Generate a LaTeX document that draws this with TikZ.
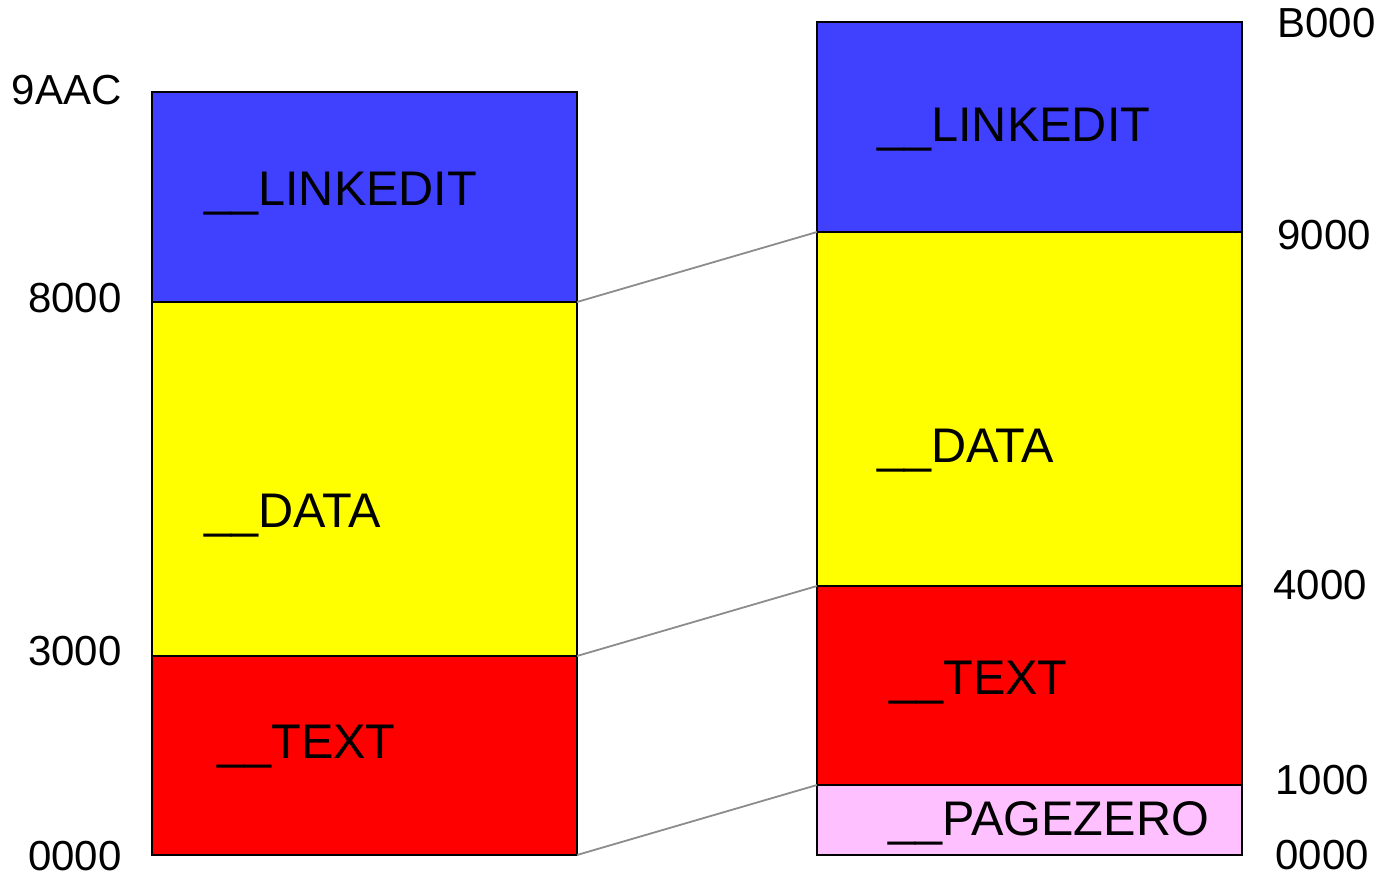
\documentclass[tikz,border=0pt]{standalone}
\usepackage{fontspec}
\setmainfont{Liberation Sans}
\usepackage{tikz}
\usetikzlibrary{positioning}

\definecolor{segblue}{HTML}{4040FF}
\definecolor{segyellow}{HTML}{FFFF00}
\definecolor{segred}{HTML}{FF0000}
\definecolor{segpink}{HTML}{FFC0FF}
\definecolor{linkgray}{HTML}{8C8C8C}

\tikzset{
  seg/.style={draw=black, line width=1pt, inner sep=0pt, outer sep=0pt,
              minimum width=212.5pt, anchor=north west},
  segname/.style={anchor=base west, inner sep=0pt, font=\fontsize{24.3}{29}\selectfont},
  addrl/.style={anchor=base east, inner sep=0pt, font=\fontsize{21}{25}\selectfont},
  addrr/.style={anchor=base west, inner sep=0pt, font=\fontsize{21}{25}\selectfont},
  link/.style={draw=linkgray, line width=0.9pt}
}

\begin{document}
\begin{tikzpicture}[x=0.5pt, y=-0.5pt]
            \useasboundingbox (0,0) rectangle (1380,876);
            % file on disk
            \draw (152,92) node[seg, fill=segblue, minimum height=105pt]    (llink) {};
            \draw (152,302) node[seg, fill=segyellow, minimum height=177pt] (ldata) {};
            \draw (152,656) node[seg, fill=segred, minimum height=99.5pt]   (ltext) {};
            % memory
            \draw (817,22) node[seg, fill=segblue, minimum height=105pt]    (rlink) {};
            \draw (817,232) node[seg, fill=segyellow, minimum height=177pt] (rdata) {};
            \draw (817,586) node[seg, fill=segred, minimum height=99.5pt]   (rtext) {};
            \draw (817,785) node[seg, fill=segpink, minimum height=35pt]    (rzero) {};
            \draw (ldata.north east) edge[link] (rdata.north west);
            \draw (ltext.north east) edge[link] (rtext.north west);
            \draw (ltext.south east) edge[link] (rzero.north west);
            % segment names
            \draw (204,206) node[segname] (nllink) {\_\_LINKEDIT};
            \draw (204,527) node[segname] (nldata) {\_\_DATA};
            \draw (217,758) node[segname] (nltext) {\_\_TEXT};
            \draw (877,142) node[segname] (nrlink) {\_\_LINKEDIT};
            \draw (877,463) node[segname] (nrdata) {\_\_DATA};
            \draw (889,694) node[segname] (nrtext) {\_\_TEXT};
            \draw (888,835) node[segname] (nrzero) {\_\_PAGEZERO};
            % addresses
            \draw (122,105) node[addrl] (a9aac) {9AAC};
            \draw (122,313) node[addrl] (a8000) {8000};
            \draw (122,665) node[addrl] (a3000) {3000};
            \draw (122,870) node[addrl] (a0000) {0000};
            \draw (1277,38) node[addrr] (bb000) {B000};
            \draw (1277,250) node[addrr] (b9000) {9000};
            \draw (1273,599) node[addrr] (b4000) {4000};
            \draw (1275,794) node[addrr] (b1000) {1000};
            \draw (1275,869) node[addrr] (b0000) {0000};

            \end{tikzpicture}
\end{document}
